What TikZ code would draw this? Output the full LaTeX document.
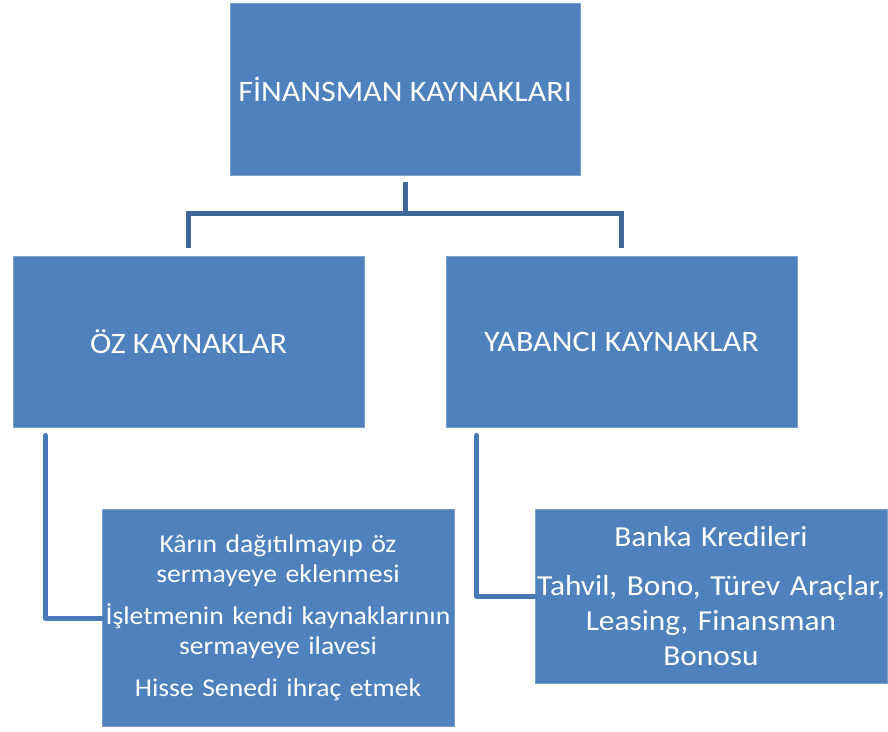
\documentclass[tikz,border=0pt]{standalone}
\usepackage{fontspec}
\setmainfont{Carlito}[FakeStretch=1.08]
\usetikzlibrary{calc}
\definecolor{boxblue}{HTML}{4F81BD}
\definecolor{boxedge}{HTML}{7D9FCB}
\definecolor{trunk}{HTML}{3F6899}
\definecolor{branch}{HTML}{4A7AB5}
\tikzset{
  box/.style={rectangle, fill=boxblue, draw=boxedge, line width=0.8pt,
    text=white, align=center, inner sep=0pt,
    font=\fontsize{29.7}{36}\selectfont},
  trunkline/.style={draw=trunk, line width=5pt, line join=miter},
  branchline/.style={draw=branch, line width=5pt, line join=round, line cap=round},
}
\begin{document}
\begin{tikzpicture}[x=1pt,y=-1pt]
\useasboundingbox (0,0) rectangle (888,731);
% levels of the tree
\node[box, minimum width=350pt, minimum height=172pt] (top) at (405,89) {FİNANSMAN KAYNAKLARI};
\node[box, minimum width=351pt, minimum height=171pt] (oz) at (188.5,341.5) {ÖZ KAYNAKLAR};
\node[box, minimum width=351pt, minimum height=171pt] (yab) at (621.5,341.5) {YABANCI KAYNAKLAR};
\node[box, minimum width=352pt, minimum height=217pt, text width=352pt,
  font=\fontsize{25.6}{30}\selectfont] (ozsub) at (278,618)
  {Kârın dağıtılmayıp öz\\sermayeye eklenmesi\\[12pt]İşletmenin kendi kaynaklarının\\sermayeye ilavesi\\[12pt]Hisse Senedi ihraç etmek};
\node[box, minimum width=352pt, minimum height=174pt, text width=352pt,
  font=\fontsize{29}{35}\selectfont] (yabsub) at (711,596)
  {Banka Kredileri\\[14pt]Tahvil, Bono, Türev Araçlar,\\Leasing, Finansman\\Bonosu};
% trunk from the top box to both sources
\coordinate (fork) at ($(top.south)+(0,38)$);
\draw[trunkline] ($(top.south)+(0,7)$) -- (fork);
\draw[trunkline] (fork) -| ($(oz.north)+(0,-8)$);
\draw[trunkline] (fork) -| ($(yab.north)+(0,-8)$);
% branches to the detail boxes
\draw[branchline] ($(oz.south west)+(33,8)$) |- (ozsub.west);
\draw[branchline] ($(yab.south west)+(31,8)$) |- (yabsub.west);
\end{tikzpicture}
\end{document}
